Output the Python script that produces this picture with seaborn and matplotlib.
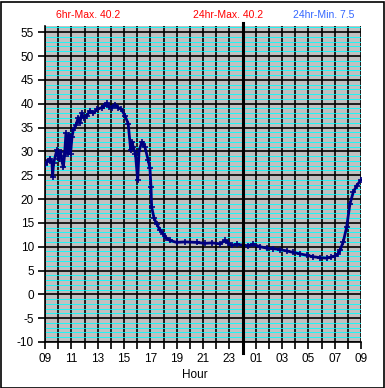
import matplotlib
matplotlib.use("Agg")
import matplotlib.pyplot as plt
from matplotlib.ticker import MultipleLocator, FixedLocator
from matplotlib.patches import Rectangle
import seaborn as sns
import pandas as pd

# hours since 09:00
hours = [0.00, 0.15, 0.38, 0.53, 0.58, 0.65, 0.89, 1.03, 1.19, 1.29, 1.39, 1.48,
         1.59, 1.71, 1.82, 1.94, 2.05, 2.15, 2.35, 2.53, 2.66, 2.79, 2.96, 3.17,
         3.42, 3.67, 3.95, 4.31, 4.48, 4.68, 4.86, 5.06, 5.31, 5.57, 5.81, 6.07,
         6.32, 6.51, 6.61, 6.70, 6.87, 7.04, 7.14, 7.34, 7.48, 7.59, 7.84, 7.97,
         8.05, 8.10, 8.28, 8.48, 8.73, 8.98, 9.22, 9.49, 10.00, 10.63, 11.52, 12.15,
         12.68, 13.29, 13.67, 13.90, 14.18, 14.58, 15.06, 15.41, 15.82, 16.32, 16.83,
         17.31, 17.84, 18.37, 18.85, 19.36, 19.87, 20.35, 20.88, 21.39, 21.72, 22.02,
         22.25, 22.40, 22.65, 22.91, 23.16, 23.41, 23.67, 23.97]
temps = [27.2, 27.8, 28.5, 27.5, 24.7, 27.5, 30.2, 28.5, 29.8, 28.0, 26.7, 29.0,
         33.8, 29.5, 33.5, 29.5, 33.0, 34.5, 35.5, 37.1, 36.0, 38.0, 37.0, 37.5,
         38.5, 38.0, 38.8, 39.2, 39.5, 40.1, 39.4, 39.2, 39.8, 39.2, 38.8, 37.5,
         35.8, 30.2, 32.0, 30.9, 29.5, 23.9, 30.0, 31.9, 31.5, 30.9, 28.1, 26.5,
         22.5, 18.3, 16.0, 14.8, 13.5, 12.7, 11.8, 11.3, 10.9, 11.0, 10.9, 10.7,
         10.8, 10.6, 11.3, 10.8, 10.3, 10.5, 10.3, 10.2, 10.5, 10.0, 9.7,
         9.6, 9.4, 9.1, 8.8, 8.5, 8.2, 7.9, 7.7, 7.6, 7.8, 8.05,
         8.5, 9.2, 11.0, 14.1, 19.0, 21.4, 22.8, 23.9]

x_tick_labels = ["09", "", "11", "", "13", "", "15", "", "17", "", "19", "", "21", "",
                 "23", "", "01", "", "03", "", "05", "", "07", "", "09"]
y_ticks = [-10, -5, 0, 5, 10, 15, 20, 25, 30, 35, 40, 45, 50, 55]

header_6hr = "6hr-Max. 40.2"
header_24max = "24hr-Max. 40.2"
header_24min = "24hr-Min. 7.5"

df = pd.DataFrame({"hour": hours, "temp": temps})

plt.rcParams['font.family'] = ['Liberation Sans', 'DejaVu Sans']

fig = plt.figure(figsize=(3.85, 3.88), dpi=100, facecolor="white")
ax = fig.add_axes([45/385, 46/388, 316/385, 316/388])
ax.set_facecolor("#c0c0c0")

sns.lineplot(data=df, x="hour", y="temp", ax=ax, color="#000080", lw=2.0,
             marker="+", markersize=4, markeredgewidth=1.2, markeredgecolor="#000080",
             zorder=5)

ax.set_xlim(0, 24)
ax.set_ylim(-10, 56.3)
ax.xaxis.set_major_locator(FixedLocator(list(range(25))))
ax.set_xticklabels(x_tick_labels)
ax.set_yticks(y_ticks)
ax.set_yticklabels([str(v) for v in y_ticks])
ax.yaxis.set_minor_locator(MultipleLocator(1))

ax.grid(True, which="major", color="black", lw=1.2, zorder=1)
ax.grid(True, which="minor", axis="y", color="#00ffff", lw=0.6, zorder=0.5)
ax.set_axisbelow(True)
ax.tick_params(which="major", direction="out", length=5, width=1.2, color="black",
               labelsize=8.5, pad=3)
ax.tick_params(which="minor", length=0)

for s in ["top", "right"]:
    ax.spines[s].set_visible(False)
for s in ["left", "bottom"]:
    ax.spines[s].set_color("black")
    ax.spines[s].set_linewidth(1.2)

ax.set_xlabel("")
ax.set_ylabel("")

# midnight marker
ax.axvline(15, ymin=-0.035, ymax=1.008, clip_on=False, color="black", lw=2.2, zorder=6)

fig.text(195/385, 1 - 375/388, "Hour", ha="center", va="center", fontsize=8.5)
fig.text(88/385, 1 - 15/388, header_6hr, ha="center", va="center", fontsize=7.5, color="#ff0000")
fig.text(228/385, 1 - 15/388, header_24max, ha="center", va="center", fontsize=7.5, color="#ff0000")
fig.text(324/385, 1 - 15/388, header_24min, ha="center", va="center", fontsize=7.5, color="#3366ff")

fig.patches.append(Rectangle((0.5/385, 0.5/388), 1 - 2/385, 1 - 2/388, transform=fig.transFigure,
                             fill=False, edgecolor="black", lw=1.2))

fig.savefig("out.png", dpi=100, facecolor="white")
